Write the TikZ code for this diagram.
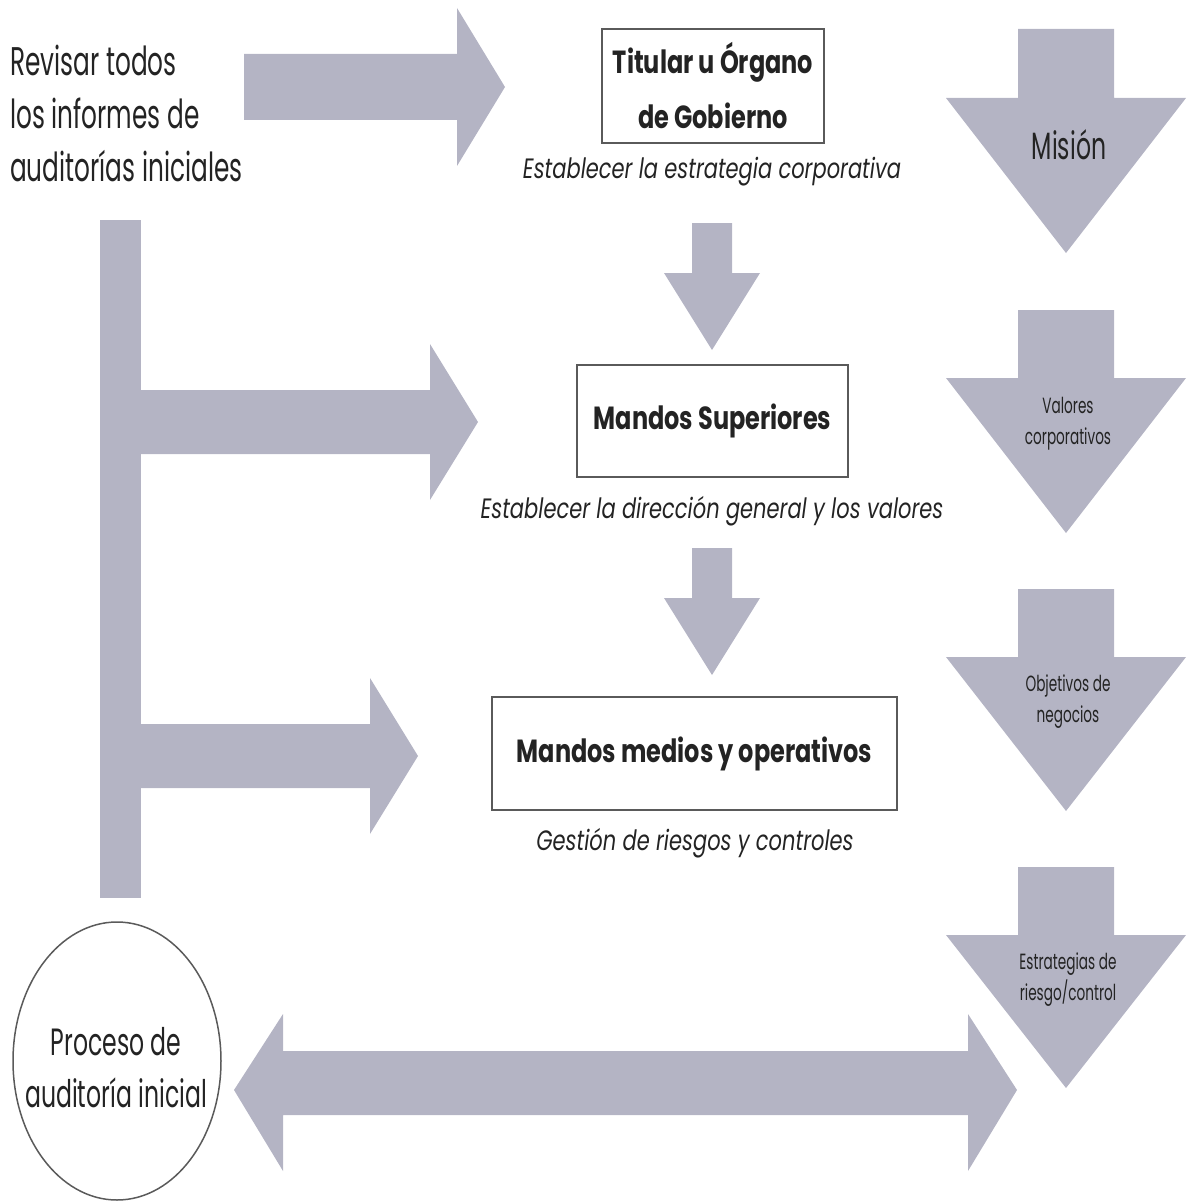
\documentclass[tikz,border=0pt]{standalone}
\usepackage{fontspec}
\setmainfont{Poppins}[FakeStretch=0.75]
\newfontfamily\narrowfont{Poppins}[FakeStretch=0.62]
\usetikzlibrary{shapes.geometric}
\definecolor{arrowgray}{RGB}{180,180,196}
\definecolor{linegray}{RGB}{90,90,90}
\definecolor{textgray}{RGB}{35,35,35}

\begin{document}
\begin{tikzpicture}[x=1pt,y=-1pt]
  \tikzset{blockarrow/.style={fill=arrowgray,draw=none}}
  \tikzset{rect/.style={draw=linegray,line width=1.5pt,rectangle,inner sep=0pt,align=center,text=textgray,font=\bfseries\fontsize{32}{55}\selectfont}}
  \tikzset{note/.style={inner sep=0pt,text=textgray,font=\itshape\fontsize{28}{34}\selectfont}}
  \tikzset{plain/.style={inner sep=0pt,align=left,text=textgray,font=\narrowfont\fontsize{40}{53}\selectfont}}
  \tikzset{circ/.style={draw=linegray,line width=1.5pt,ellipse,inner sep=0pt}}
  \tikzset{arrtxt/.style={inner sep=0pt,align=center,text=textgray,font=\narrowfont\fontsize{22}{31}\selectfont}}

  \useasboundingbox (0,0) rectangle (1187,1201);

  % left column
  \node[plain,anchor=west] (revisar) at (10,113) {Revisar todos\\los informes de\\auditorías iniciales};
  \fill[blockarrow] (100,220) rectangle (141,898);
  \fill[blockarrow] (244,54) -- (457,54) -- (457,8) -- (505,87) -- (457,166) -- (457,120) -- (244,120) -- cycle;
  \fill[blockarrow] (141,390) -- (430,390) -- (430,344) -- (478,422) -- (430,500) -- (430,454) -- (141,454) -- cycle;
  \fill[blockarrow] (141,724) -- (370,724) -- (370,678) -- (418,756) -- (370,834) -- (370,788) -- (141,788) -- cycle;

  % centre column
  \node[rect,minimum width=222pt,minimum height=114pt] (titular) at (713,86) {Titular u Órgano\\de Gobierno};
  \node[note] (estrategia) at (712,172) {Establecer la estrategia corporativa};
  \node[rect,minimum width=271pt,minimum height=112pt] (superiores) at (712.5,421) {Mandos Superiores};
  \node[note] (direccion) at (712,511) {Establecer la dirección general y los valores};
  \node[rect,minimum width=405pt,minimum height=113pt] (medios) at (694.5,753.5) {Mandos medios y operativos};
  \node[note] (gestion) at (695,843) {Gestión de riesgos y controles};
  \foreach \ya/\yb/\yc in {223/273/350, 548/598/675}
    \fill[blockarrow] (692,\ya) -- (732,\ya) -- (732,\yb) -- (760,\yb) -- (712,\yc) -- (664,\yb) -- (692,\yb) -- cycle;

  % right column
  \foreach \ya/\yb/\yc in {29/98/253, 310/378/533, 589/657/811, 867/935/1088}
    \fill[blockarrow] (1018,\ya) -- (1114,\ya) -- (1114,\yb) -- (1186,\yb) -- (1066,\yc) -- (946,\yb) -- (1018,\yb) -- cycle;
  \node[arrtxt,font=\narrowfont\fontsize{38}{44}\selectfont] (mision) at (1069,145) {Misión};
  \node[arrtxt] (valores) at (1068,424) {Valores\\corporativos};
  \node[arrtxt] (objetivos) at (1068,702) {Objetivos de\\negocios};
  \node[arrtxt] (estrategias) at (1068,980) {Estrategias de\\riesgo/control};

  % bottom
  \node[circ,minimum width=208pt,minimum height=278pt] (proceso) at (117,1061) {};
  \node[plain,align=center,font=\narrowfont\fontsize{38}{52}\selectfont] (procesotxt) at (116,1068) {Proceso de\\auditoría inicial};
  \fill[blockarrow] (234,1090) -- (283,1014) -- (283,1051) -- (968,1051) -- (968,1014) -- (1017,1090) -- (968,1171) -- (968,1115) -- (283,1115) -- (283,1171) -- cycle;
\end{tikzpicture}
\end{document}
